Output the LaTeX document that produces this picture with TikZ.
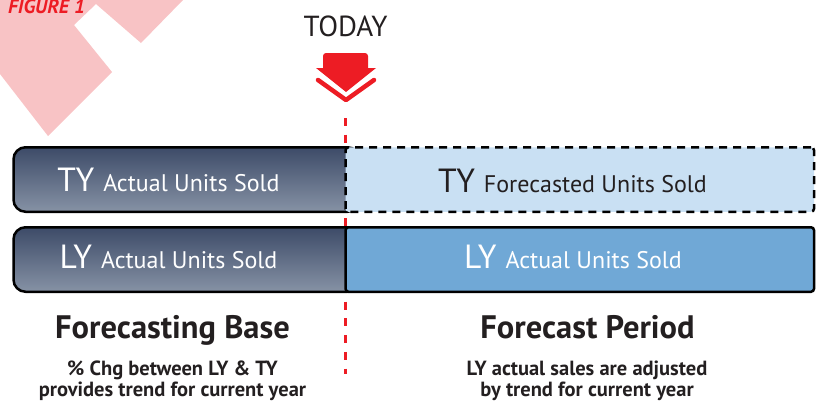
\documentclass[tikz,border=0pt]{standalone}
\usepackage{fontspec}
\setmainfont{PT Sans}
\usetikzlibrary{arrows}
\pgfdeclarelayer{bg}
\pgfsetlayers{bg,main}
\definecolor{figred}{HTML}{ED1C24}
\definecolor{figpink}{HTML}{F8C3C5}
\definecolor{txtgray}{HTML}{231F20}
\definecolor{slatetop}{HTML}{3D4B68}
\definecolor{slatebot}{HTML}{8692A5}
\definecolor{paleblue}{HTML}{C9E0F3}
\definecolor{midblue}{HTML}{70A8D6}
\newcommand{\yrfont}{\fontsize{33.5}{34}\selectfont}
\newcommand{\unitfont}{\fontsize{24}{24}\selectfont}
\tikzset{
	base/.style = {rectangle, rounded corners = 12pt, minimum width = 346pt, minimum height = 64.5pt, draw = black, line width = 2.5pt, top color = slatetop, bottom color = slatebot, anchor = west, inner sep = 0pt, outer sep = 0pt},
	fcst/.style = {rectangle, rounded corners = 3pt, minimum width = 468.5pt, minimum height = 64.5pt, draw = black, line width = 2.5pt, anchor = west, inner sep = 0pt, outer sep = 0pt},
	bartxt/.style = {anchor = base, inner sep = 0pt, text = white},
	head/.style = {anchor = base, inner sep = 0pt, text = txtgray, font = \fontsize{32.5}{33}\selectfont\bfseries},
	note/.style = {anchor = base, inner sep = 0pt, text = txtgray, align = center, font = \fontsize{20.5}{21}\selectfont\bfseries},
	marker/.style = {draw = figred, line width = 3pt, dash pattern = on 8pt off 8.7pt}
}

\begin{document}
\begin{tikzpicture}[x = 1pt, y = -1pt]
	\useasboundingbox (0,0) rectangle (816,402);
	
	%% corner badge
	\begin{pgfonlayer}{bg}
	\fill [figpink] (0,0) -- (183,0) -- (141,43) -- (96,4) -- (74,25) -- (112,72) -- (48,136) -- (0,74) -- cycle;
	\end{pgfonlayer}
	\node (fig) [anchor = base west, inner sep = 0pt, text = figred, font = \fontsize{20}{20}\selectfont\bfseries\itshape] at (8,13) {FIGURE 1};
	
	%% today marker
	\node (today) [anchor = base, inner sep = 0pt, text = txtgray, font = \fontsize{29}{29}\selectfont] at (345.5,36) {TODAY};
	\fill [figred, rounded corners = 3pt] (368,68) -- (368,53) -- (323,53) -- (323,68);
	\fill [figred] (316,68) -- (376,68) -- (346,92) -- cycle;
	\draw [figred, line width = 4.5pt, line cap = round, line join = round] (318,80) -- (346,100) -- (374,80);
	\coordinate (marktop) at (345.5,118);
	\coordinate (markbot) at (345.5,374);
	\begin{pgfonlayer}{bg}
	\draw [marker] (marktop) -- (markbot);
	\end{pgfonlayer}
	
	%% bars
	\node (tybase) [base] at (13.5,179.5) {};
	\node (lybase) [base] at (13.5,259.5) {};
	\node (tyfcst) [fcst, fill = paleblue, dash pattern = on 8pt off 6pt] at (345.5,179.5) {};
	\node (lyfcst) [fcst, fill = midblue] at (345.5,259.5) {};
	
	%% bar texts
	\node (tybasetxt) [bartxt] at (168.5,191) {\yrfont TY \unitfont Actual Units Sold};
	\node (lybasetxt) [bartxt] at (168.5,268) {\yrfont LY \unitfont Actual Units Sold};
	\node (tyfcsttxt) [bartxt, text = txtgray] at (572.5,192) {\yrfont TY \unitfont Forecasted Units Sold};
	\node (lyfcsttxt) [bartxt] at (573,268) {\yrfont LY \unitfont Actual Units Sold};
	
	%% captions (base = last line)
	\node (basehead) [head] at (172.5,338) {Forecasting Base};
	\node (fcsthead) [head] at (587.5,338) {Forecast Period};
	\node (basenote) [note] at (172.5,396) {\% Chg between LY \& TY\\provides trend for current year};
	\node (fcstnote) [note] at (587,396) {LY actual sales are adjusted\\by trend for current year};
\end{tikzpicture}
\end{document}
